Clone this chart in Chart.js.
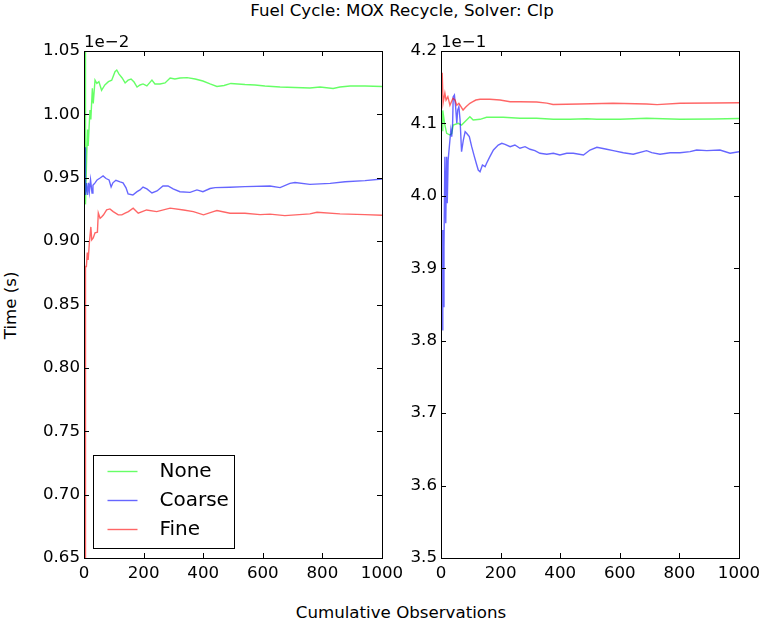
<!DOCTYPE html>
<html>
<head>
<meta charset="utf-8">
<script src="https://cdn.jsdelivr.net/npm/chart.js@4.4.1/dist/chart.umd.min.js"></script>
<style>
  body { margin: 0; background: #fff; width: 762px; height: 624px; overflow: hidden; position: relative;
         font-family: "DejaVu Sans", sans-serif; }
  canvas { position: absolute; }
  .txt { position: absolute; font-size: 16.67px; line-height: 16.67px; white-space: nowrap; color: #000; }
</style>
</head>
<body>
<div class="txt" style="left:0; width:804px; text-align:center; top:3px;">Fuel Cycle: MOX Recycle, Solver: Clp</div>
<div class="txt" style="left:0; width:802px; text-align:center; top:605px;">Cumulative Observations</div>
<div class="txt" style="left:-89px; width:200px; text-align:center; top:297px; transform:rotate(-90deg);">Time (s)</div>
<canvas id="left" width="420" height="558" style="left:0; top:30px; width:420px; height:558px;"></canvas>
<canvas id="right" width="420" height="558" style="left:357px; top:30px; width:420px; height:558px;"></canvas>
<script>
// Running mean solve time (seconds) against cumulative observation count.
// Left panel: first problem set; right panel: second problem set.

const xTicks = [0, 200, 400, 600, 800, 1000];
const leftYTicks = [0.65, 0.70, 0.75, 0.80, 0.85, 0.90, 0.95, 1.00, 1.05];   // x 1e-2 s
const rightYTicks = [3.5, 3.6, 3.7, 3.8, 3.9, 4.0, 4.1, 4.2];                // x 1e-1 s
const seriesNames = ['None', 'Coarse', 'Fine'];

// [observations, seconds]
const noneLeft = [
  [4, 0.01080], [5, 0.00929], [9, 0.00967], [12, 0.00988], [14, 0.00975], [20, 0.010035],
  [23, 0.00996], [28, 0.010206], [31, 0.010087], [37, 0.01027], [43, 0.010245], [50, 0.010258],
  [59, 0.01019], [70, 0.010232], [82, 0.010258], [93, 0.01027], [104, 0.010337], [110, 0.01035],
  [117, 0.01032], [128, 0.010287], [138, 0.010248], [148, 0.01027], [158, 0.010279], [168, 0.010255],
  [178, 0.010216], [188, 0.010232], [198, 0.01024], [211, 0.010224], [228, 0.01027], [238, 0.01024],
  [255, 0.01024], [272, 0.010248], [289, 0.010287], [305, 0.010279], [322, 0.010287], [346, 0.01029],
  [373, 0.010279], [399, 0.010263], [423, 0.01024], [446, 0.01022], [470, 0.010228], [493, 0.010244],
  [540, 0.010236], [574, 0.010232], [607, 0.010224], [658, 0.010216], [708, 0.010212], [758, 0.010208],
  [792, 0.010216], [836, 0.010204], [859, 0.010216], [893, 0.010224], [943, 0.010224], [1000, 0.01022]
];
const coarseLeft = [
  [4, 0.00974], [5, 0.009364], [8, 0.009459], [12, 0.009364], [15, 0.00946], [18, 0.00939],
  [22, 0.009483], [27, 0.00938], [30, 0.00944], [37, 0.00946], [44, 0.009483], [54, 0.009498],
  [64, 0.009514], [74, 0.009494], [84, 0.009483], [91, 0.009427], [97, 0.00946], [107, 0.00948],
  [121, 0.009467], [131, 0.00946], [141, 0.00942], [148, 0.009372], [164, 0.009364], [178, 0.00939],
  [188, 0.009404], [198, 0.009427], [211, 0.009412], [228, 0.00938], [245, 0.009396], [265, 0.009435],
  [282, 0.009436], [299, 0.009412], [322, 0.00939], [356, 0.009385], [379, 0.009404], [399, 0.00939],
  [423, 0.009415], [440, 0.009422], [490, 0.009425], [540, 0.00943], [624, 0.009435], [658, 0.009422],
  [691, 0.009456], [708, 0.009462], [758, 0.009448], [826, 0.009456], [876, 0.009469], [943, 0.009477],
  [1000, 0.00949]
];
const fineLeft = [
  [4, 0.00600], [5, 0.00880], [8, 0.00880], [11, 0.00891], [14, 0.008852], [18, 0.008986],
  [23, 0.009112], [26, 0.00901], [31, 0.009025], [37, 0.009065], [45, 0.00907], [48, 0.009222],
  [54, 0.00918], [59, 0.00919], [65, 0.009206], [76, 0.009246], [87, 0.009254], [98, 0.009233],
  [115, 0.009207], [127, 0.009207], [138, 0.00922], [149, 0.009233], [165, 0.00926], [182, 0.00922],
  [210, 0.009246], [244, 0.009233], [289, 0.00926], [334, 0.009246], [367, 0.009233], [401, 0.009207],
  [434, 0.009233], [446, 0.009241], [490, 0.00922], [540, 0.00922], [591, 0.009209], [624, 0.009213],
  [674, 0.009201], [758, 0.009215], [782, 0.009228], [859, 0.009215], [943, 0.009209], [1000, 0.009204]
];

const noneRight = [
  [4, 0.4090], [6, 0.4118], [12, 0.4100], [19, 0.40864], [30, 0.4084], [36, 0.4086],
  [41, 0.40978], [58, 0.41002], [69, 0.40978], [86, 0.41047], [97, 0.41093], [108, 0.41047],
  [131, 0.41057], [153, 0.41085], [209, 0.41085], [265, 0.41071], [321, 0.41071], [377, 0.41057],
  [433, 0.41057], [489, 0.41065], [523, 0.41057], [601, 0.41057], [690, 0.41071], [802, 0.41057],
  [914, 0.41061], [1000, 0.41068]
];
const coarseRight = [
  [4, 0.3815], [6, 0.39529], [8, 0.3847], [10, 0.39298], [13, 0.40541], [16, 0.39621],
  [19, 0.4054], [21, 0.39897], [24, 0.40495], [28, 0.40679], [33, 0.40909], [36, 0.40817],
  [39, 0.41002], [41, 0.41369], [45, 0.41393], [49, 0.41231], [53, 0.41002], [56, 0.41185],
  [60, 0.41231], [64, 0.41047], [69, 0.4061], [75, 0.40771], [81, 0.40886], [86, 0.40864],
  [95, 0.40817], [103, 0.40679], [112, 0.40541], [120, 0.40426], [125, 0.40357], [131, 0.40334],
  [139, 0.40426], [148, 0.40403], [153, 0.4045], [164, 0.40541], [176, 0.40633], [192, 0.40702],
  [204, 0.40726], [215, 0.40712], [232, 0.40679], [248, 0.40702], [265, 0.40657], [282, 0.40679],
  [299, 0.40643], [315, 0.40624], [332, 0.40588], [355, 0.40574], [377, 0.40588], [399, 0.40564],
  [422, 0.40588], [444, 0.40588], [478, 0.40564], [500, 0.40633], [523, 0.4067], [556, 0.40643],
  [578, 0.40624], [612, 0.40596], [645, 0.40574], [690, 0.40624], [707, 0.40596], [735, 0.40574],
  [769, 0.40596], [802, 0.40596], [836, 0.4061], [858, 0.40633], [892, 0.40624], [936, 0.40633],
  [970, 0.40588], [1000, 0.4061]
];
const fineRight = [
  [4, 0.4170], [7, 0.41282], [13, 0.4142], [17, 0.41323], [23, 0.41369], [30, 0.4125],
  [40, 0.41347], [47, 0.41323], [53, 0.4125], [60, 0.41278], [67, 0.41231], [74, 0.41185],
  [84, 0.41231], [97, 0.41278], [107, 0.4130], [117, 0.41323], [131, 0.41333], [164, 0.41333],
  [198, 0.41323], [232, 0.4130], [265, 0.4130], [321, 0.41295], [355, 0.4128], [376, 0.41262],
  [466, 0.41268], [577, 0.41278], [690, 0.41268], [725, 0.41259], [802, 0.41278], [913, 0.41282],
  [1000, 0.41286]
];

const lineColors = ['rgba(0,255,0,0.6)', 'rgba(0,0,255,0.6)', 'rgba(255,0,0,0.6)'];

Chart.defaults.font.family = '"DejaVu Sans", sans-serif';
Chart.defaults.font.size = 16.67;
Chart.defaults.color = '#000';

// Inward ticks on all four sides, the axes frame and the scale multiplier text.
const framePlugin = {
  id: 'frame',
  afterDatasetsDraw(chart, args, opts) {
    const { ctx, chartArea: a, scales: { x, y } } = chart;
    ctx.save();
    ctx.strokeStyle = '#000';
    ctx.lineWidth = 1;
    ctx.beginPath();
    const L = 5;
    x.ticks.forEach(t => {
      const px = Math.round(x.getPixelForValue(t.value)) + 0.5;
      ctx.moveTo(px, a.bottom); ctx.lineTo(px, a.bottom - L);
      ctx.moveTo(px, a.top); ctx.lineTo(px, a.top + L);
    });
    y.ticks.forEach(t => {
      const py = Math.round(y.getPixelForValue(t.value)) + 0.5;
      ctx.moveTo(a.left, py); ctx.lineTo(a.left + L, py);
      ctx.moveTo(a.right, py); ctx.lineTo(a.right - L, py);
    });
    ctx.stroke();
    ctx.strokeRect(a.left + 0.5, a.top + 0.5, a.right - a.left, a.bottom - a.top);
    ctx.fillStyle = '#000';
    ctx.font = '16.67px "DejaVu Sans"';
    ctx.textAlign = 'left';
    ctx.textBaseline = 'alphabetic';
    ctx.fillText(opts.offsetText, a.left, a.top - 4);
    ctx.restore();
  }
};

// Boxed legend in the lower-left corner of the plot area.
const boxLegendPlugin = {
  id: 'boxLegend',
  afterDraw(chart, args, opts) {
    if (!opts.show) return;
    const { ctx, chartArea: a } = chart;
    const bx = a.left + 9.5, bw = 141, bh = 93;
    const by = a.bottom - 10 - bh + 0.5;
    ctx.save();
    ctx.fillStyle = '#fff';
    ctx.fillRect(bx, by, bw, bh);
    ctx.strokeStyle = '#000';
    ctx.lineWidth = 1;
    ctx.strokeRect(bx, by, bw, bh);
    ctx.font = '20px "DejaVu Sans"';
    ctx.textBaseline = 'middle';
    ctx.textAlign = 'left';
    chart.data.datasets.forEach((ds, i) => {
      const ry = by + 16 + i * 29;
      ctx.strokeStyle = ds.borderColor;
      ctx.lineWidth = ds.borderWidth;
      ctx.beginPath();
      ctx.moveTo(bx + 14, ry); ctx.lineTo(bx + 44, ry);
      ctx.stroke();
      ctx.fillStyle = '#000';
      ctx.fillText(ds.label, bx + 66, ry);
    });
    ctx.restore();
  }
};

function makeDatasets(series) {
  return series.map((pts, i) => ({
    label: seriesNames[i],
    data: pts.map(p => ({ x: p[0], y: p[1] })),
    borderColor: lineColors[i],
    borderWidth: 1.4,
    pointRadius: 0,
    fill: false,
    tension: 0,
    order: 3 - i
  }));
}

function makeChart(id, series, yTicks, factor, digits, offsetText, showLegend) {
  return new Chart(document.getElementById(id), {
    type: 'line',
    data: { datasets: makeDatasets(series) },
    plugins: [framePlugin, boxLegendPlugin],
    options: {
      responsive: false,
      animation: false,
      events: [],
      layout: { padding: { top: 21, right: 38, left: 0, bottom: 0 } },
      plugins: {
        legend: { display: false },
        tooltip: { enabled: false },
        frame: { offsetText },
        boxLegend: { show: showLegend }
      },
      scales: {
        x: {
          type: 'linear',
          min: 0, max: 1000,
          grid: { display: false, drawTicks: false },
          border: { display: false },
          afterBuildTicks: s => { s.ticks = xTicks.map(v => ({ value: v })); },
          afterFit: s => { s.height = 30; },
          ticks: { padding: 6, maxRotation: 0, autoSkip: false, callback: v => String(v) }
        },
        y: {
          type: 'linear',
          min: yTicks[0] * factor, max: yTicks[yTicks.length - 1] * factor,
          grid: { display: false, drawTicks: false },
          border: { display: false },
          afterBuildTicks: s => { s.ticks = yTicks.map(v => ({ value: v * factor })); },
          afterFit: s => { s.width = 84; },
          ticks: { padding: 4, autoSkip: false, callback: v => (v / factor).toFixed(digits) }
        }
      }
    }
  });
}

makeChart('left', [noneLeft, coarseLeft, fineLeft], leftYTicks, 1e-2, 2, '1e\u22122', true);
makeChart('right', [noneRight, coarseRight, fineRight], rightYTicks, 1e-1, 1, '1e\u22121', false);
</script>
</body>
</html>
